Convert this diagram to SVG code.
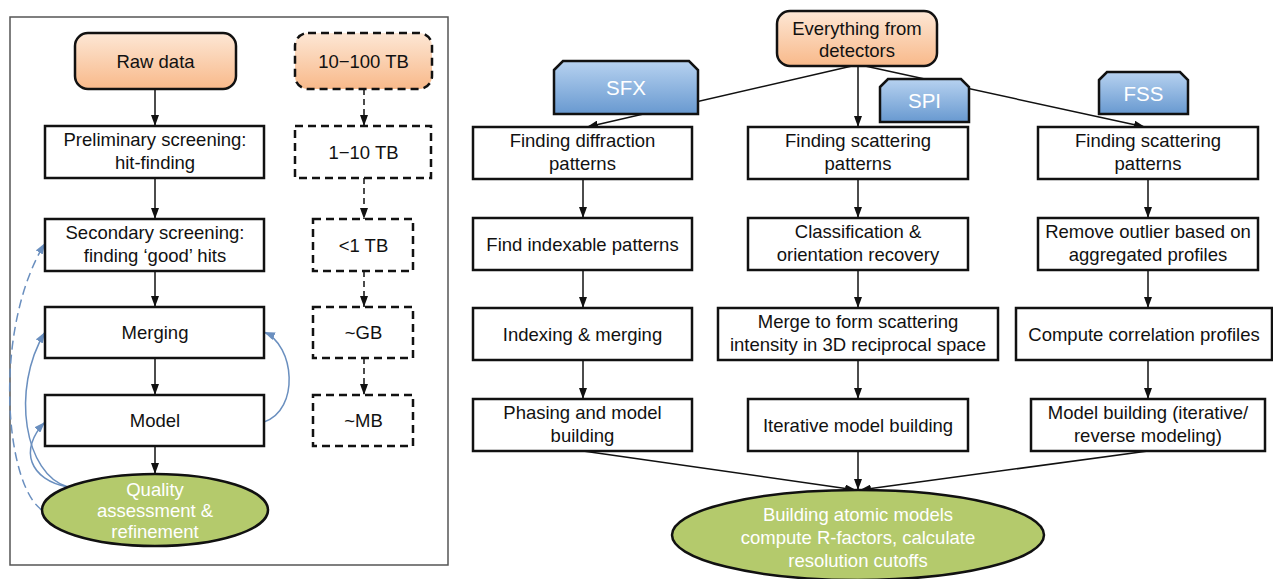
<svg xmlns="http://www.w3.org/2000/svg" width="1273" height="579" viewBox="0 0 1273 579">
<defs>
<linearGradient id="gOr" x1="0" y1="0" x2="0" y2="1"><stop offset="0" stop-color="#fde7d5"/><stop offset="1" stop-color="#f8b98a"/></linearGradient>
<linearGradient id="gBl" x1="0" y1="0" x2="0" y2="1"><stop offset="0" stop-color="#b7d2f0"/><stop offset="1" stop-color="#6899d0"/></linearGradient>
<marker id="ah" markerUnits="userSpaceOnUse" markerWidth="12" markerHeight="8" refX="11" refY="4" orient="auto"><path d="M0,0 L11,4 L0,8 Z" fill="#111"/></marker>
<marker id="ahb" markerUnits="userSpaceOnUse" markerWidth="12" markerHeight="8" refX="11" refY="4" orient="auto"><path d="M0,0 L11,4 L0,8 Z" fill="#6a8fbf"/></marker>
<style>
.box{fill:#fff;stroke:#111;stroke-width:2.5}
.dbox{fill:#fff;stroke:#111;stroke-width:2.5;stroke-dasharray:8,5}
.or{fill:url(#gOr)}
.tag{fill:url(#gBl);stroke:#111;stroke-width:2.5}
.ell{fill:#b4ca6c;stroke:#111;stroke-width:2.5}
.t{font-family:"Liberation Sans",Arial,sans-serif;font-size:18.5px;fill:#111;text-anchor:middle}
.w{fill:#fff}
.tg{font-family:"Liberation Sans",Arial,sans-serif;font-size:20.5px;fill:#fff;text-anchor:middle}
.ln{stroke:#111;stroke-width:1.5;fill:none}
.dl{stroke:#111;stroke-width:1.5;fill:none;stroke-dasharray:6,4}
.bl{stroke:#6a8fbf;stroke-width:1.5;fill:none}
.bd{stroke:#6a8fbf;stroke-width:1.5;fill:none;stroke-dasharray:9,5}
</style>
</defs>
<rect x="10" y="17" width="438" height="548" fill="#fff" stroke="#555" stroke-width="1.5"/>
<g id="connectors">
<line class="ln" x1="155" y1="89" x2="155" y2="126" marker-end="url(#ah)"/>
<line class="ln" x1="155" y1="178" x2="155" y2="219" marker-end="url(#ah)"/>
<line class="ln" x1="155" y1="271" x2="155" y2="307" marker-end="url(#ah)"/>
<line class="ln" x1="155" y1="358" x2="155" y2="395" marker-end="url(#ah)"/>
<line class="ln" x1="155" y1="446" x2="155" y2="474" marker-end="url(#ah)"/>
<line class="dl" x1="364" y1="89" x2="364" y2="126" marker-end="url(#ah)"/>
<line class="dl" x1="364" y1="178" x2="364" y2="219" marker-end="url(#ah)"/>
<line class="dl" x1="364" y1="271" x2="364" y2="307" marker-end="url(#ah)"/>
<line class="dl" x1="364" y1="358" x2="364" y2="395" marker-end="url(#ah)"/>
<path class="bd" d="M42,510 C5,485 -8,330 45,243" marker-end="url(#ahb)"/>
<path class="bl" d="M68,487 C25,475 10,390 45,332" marker-end="url(#ahb)"/>
<path class="bl" d="M68,487 C30,480 18,450 45,422" marker-end="url(#ahb)"/>
<path class="bl" d="M264,422 C300,410 295,345 264,332" marker-end="url(#ahb)"/>
<line class="ln" x1="852" y1="66" x2="587" y2="127" marker-end="url(#ah)"/>
<line class="ln" x1="858" y1="66" x2="858" y2="127" marker-end="url(#ah)"/>
<line class="ln" x1="865" y1="66" x2="1145" y2="127" marker-end="url(#ah)"/>
<line class="ln" x1="583" y1="179" x2="583" y2="218" marker-end="url(#ah)"/>
<line class="ln" x1="583" y1="270" x2="583" y2="308" marker-end="url(#ah)"/>
<line class="ln" x1="583" y1="360" x2="583" y2="399" marker-end="url(#ah)"/>
<line class="ln" x1="858" y1="179" x2="858" y2="218" marker-end="url(#ah)"/>
<line class="ln" x1="858" y1="270" x2="858" y2="308" marker-end="url(#ah)"/>
<line class="ln" x1="858" y1="360" x2="858" y2="399" marker-end="url(#ah)"/>
<line class="ln" x1="1148" y1="179" x2="1148" y2="218" marker-end="url(#ah)"/>
<line class="ln" x1="1148" y1="270" x2="1148" y2="308" marker-end="url(#ah)"/>
<line class="ln" x1="1148" y1="360" x2="1148" y2="399" marker-end="url(#ah)"/>
<line class="ln" x1="583" y1="451" x2="856" y2="490" marker-end="url(#ah)"/>
<line class="ln" x1="858" y1="451" x2="858" y2="490" marker-end="url(#ah)"/>
<line class="ln" x1="1148" y1="451" x2="860" y2="490" marker-end="url(#ah)"/>
</g>
<g id="raw"><rect class="box or" x="75" y="33" width="161" height="56" rx="13"/><text class="t" x="155.5" y="67.5">Raw data</text></g>
<g id="tb100"><rect class="dbox or" x="295" y="33" width="137" height="56" rx="13"/><text class="t" x="363.5" y="67.5">10−100 TB</text></g>
<g id="prelim"><rect class="box" x="45" y="126" width="219" height="52"/><text class="t" x="155" y="146">Preliminary screening:</text><text class="t" x="155" y="169">hit-finding</text></g>
<g id="tb10"><rect class="dbox" x="295" y="126" width="136" height="52"/><text class="t" x="363.5" y="158.5">1−10 TB</text></g>
<g id="secondary"><rect class="box" x="45" y="219" width="219" height="52"/><text class="t" x="155" y="239">Secondary screening:</text><text class="t" x="155" y="262">finding ‘good’ hits</text></g>
<g id="tb1"><rect class="dbox" x="313" y="219" width="100" height="52"/><text class="t" x="363.5" y="251.5">&lt;1 TB</text></g>
<g id="merging"><rect class="box" x="45" y="307" width="219" height="51"/><text class="t" x="155" y="339">Merging</text></g>
<g id="gb"><rect class="dbox" x="313" y="307" width="100" height="51"/><text class="t" x="363.5" y="339">~GB</text></g>
<g id="model"><rect class="box" x="45" y="395" width="219" height="51"/><text class="t" x="155" y="427">Model</text></g>
<g id="mb"><rect class="dbox" x="313" y="395" width="100" height="51"/><text class="t" x="363.5" y="427">~MB</text></g>
<g id="quality"><ellipse class="ell" cx="155" cy="510" rx="113" ry="36"/><text class="t w" x="155" y="495.5">Quality</text><text class="t w" x="155" y="516.5">assessment &amp;</text><text class="t w" x="155" y="537.5">refinement</text></g>
<g id="everything"><rect class="box or" x="777" y="11" width="160" height="55" rx="13"/><text class="t" x="857" y="34.5">Everything from</text><text class="t" x="857" y="56.5">detectors</text></g>
<g id="sfx"><path class="tag" d="M554,70 L563,61 L689,61 L698,70 L698,114 L554,114 Z"/><text class="tg" x="626" y="95">SFX</text></g>
<g id="spi"><path class="tag" d="M880,87 L888,79 L961,79 L969,87 L969,122 L880,122 Z"/><text class="tg" x="924.5" y="108">SPI</text></g>
<g id="fss"><path class="tag" d="M1099,80 L1107,72 L1180,72 L1188,80 L1188,114 L1099,114 Z"/><text class="tg" x="1143.5" y="100.5">FSS</text></g>
<g id="sfx1"><rect class="box" x="473" y="127" width="219" height="52"/><text class="t" x="582.5" y="147">Finding diffraction</text><text class="t" x="582.5" y="170">patterns</text></g>
<g id="sfx2"><rect class="box" x="473" y="218" width="219" height="52"/><text class="t" x="582.5" y="250.5">Find indexable patterns</text></g>
<g id="sfx3"><rect class="box" x="473" y="308" width="219" height="52"/><text class="t" x="582.5" y="340.5">Indexing &amp; merging</text></g>
<g id="sfx4"><rect class="box" x="473" y="399" width="219" height="52"/><text class="t" x="582.5" y="419">Phasing and model</text><text class="t" x="582.5" y="442">building</text></g>
<g id="spi1"><rect class="box" x="748" y="127" width="220" height="52"/><text class="t" x="858" y="147">Finding scattering</text><text class="t" x="858" y="170">patterns</text></g>
<g id="spi2"><rect class="box" x="748" y="218" width="220" height="52"/><text class="t" x="858" y="238">Classification &amp;</text><text class="t" x="858" y="261">orientation recovery</text></g>
<g id="spi3"><rect class="box" x="718" y="308" width="280" height="52"/><text class="t" x="858" y="328">Merge to form scattering</text><text class="t" x="858" y="351">intensity in 3D reciprocal space</text></g>
<g id="spi4"><rect class="box" x="748" y="399" width="220" height="52"/><text class="t" x="858" y="431.5">Iterative model building</text></g>
<g id="fss1"><rect class="box" x="1038" y="127" width="220" height="52"/><text class="t" x="1148" y="147">Finding scattering</text><text class="t" x="1148" y="170">patterns</text></g>
<g id="fss2"><rect class="box" x="1038" y="218" width="220" height="52"/><text class="t" x="1148" y="238">Remove outlier based on</text><text class="t" x="1148" y="261">aggregated profiles</text></g>
<g id="fss3"><rect class="box" x="1016" y="308" width="256" height="52"/><text class="t" x="1144" y="340.5">Compute correlation profiles</text></g>
<g id="fss4"><rect class="box" x="1031" y="399" width="234" height="52"/><text class="t" x="1148" y="419">Model building (iterative/</text><text class="t" x="1148" y="442">reverse modeling)</text></g>
<g id="atomic"><ellipse class="ell" cx="858" cy="535" rx="186" ry="45"/><text class="t w" x="858" y="520.5">Building atomic models</text><text class="t w" x="858" y="543.5">compute R-factors, calculate</text><text class="t w" x="858" y="566.5">resolution cutoffs</text></g>
</svg>
